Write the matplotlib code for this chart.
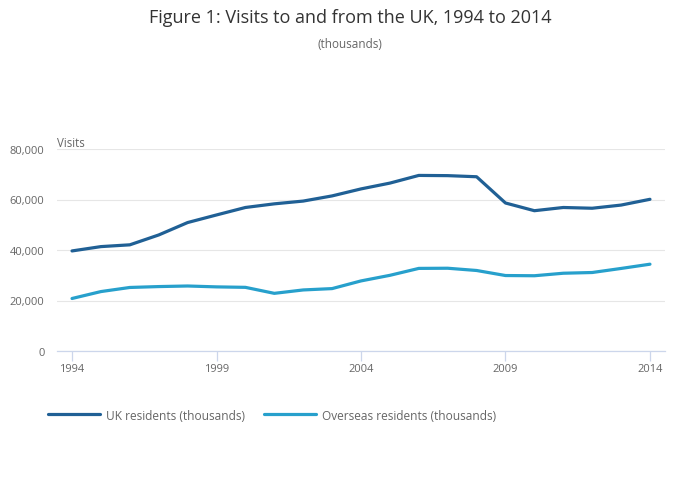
import matplotlib
matplotlib.use("Agg")
import matplotlib.pyplot as plt
from matplotlib.ticker import FuncFormatter, MultipleLocator

plt.rcParams['font.family'] = ['Open Sans', 'DejaVu Sans']

years = list(range(1994, 2015))
uk_residents = [39630, 41345, 42050, 45957, 50872, 53881, 56837, 58281, 59377, 61424,
                64194, 66494, 69536, 69450, 69011, 58614, 55562, 56836, 56538, 57792, 60082]
overseas_residents = [20794, 23537, 25163, 25515, 25745, 25394, 25209, 22835, 24180, 24715,
                      27755, 29970, 32713, 32778, 31888, 29889, 29803, 30798, 31084, 32692, 34377]
xticks = [1994, 1999, 2004, 2009, 2014]

fig = plt.figure(figsize=(7, 5.02), dpi=100)
ax = fig.add_axes([57/700, 1 - 352/502, (665 - 57)/700, (352 - 150)/502])

ax.plot(years, uk_residents, color='#206095', lw=2.3, label='UK residents (thousands)',
        solid_capstyle='round')
ax.plot(years, overseas_residents, color='#27a0cc', lw=2.3, label='Overseas residents (thousands)',
        solid_capstyle='round')

ax.set_xlim(1993.48, 2014.52)
ax.set_ylim(0, 80000)
ax.yaxis.set_major_locator(MultipleLocator(20000))
ax.yaxis.set_major_formatter(FuncFormatter(lambda v, p: f'{int(v):,}'))
ax.set_xticks(xticks)
ax.grid(axis='y', color='#e6e6e6', lw=0.8)
ax.set_axisbelow(True)
for s in ['top', 'right', 'left']:
    ax.spines[s].set_visible(False)
ax.spines['bottom'].set_color('#ccd6eb')
ax.spines['bottom'].set_linewidth(0.9)
ax.tick_params(axis='y', length=0, pad=9, labelsize=8, labelcolor='#666666')
ax.tick_params(axis='x', length=7, width=0.9, color='#ccd6eb', pad=2, labelsize=8,
               labelcolor='#666666')

ax.text(0, 1.0, 'Visits', transform=ax.transAxes, fontsize=8.3, color='#666666',
        ha='left', va='bottom')

fig.text(0.5, 1 - 18/502, 'Figure 1: Visits to and from the UK, 1994 to 2014', ha='center',
         va='center', fontsize=13, color='#333333')
fig.text(0.5, 1 - 44/502, '(thousands)', ha='center', va='center', fontsize=8.5, color='#666666')

fig.legend(loc='center left', bbox_to_anchor=(37/700, 1 - 416/502), ncol=2, frameon=False,
           fontsize=8.6, labelcolor='#666666', handlelength=4.35, handletextpad=0.5,
           columnspacing=1.6)

fig.savefig('out.png', dpi=100)
